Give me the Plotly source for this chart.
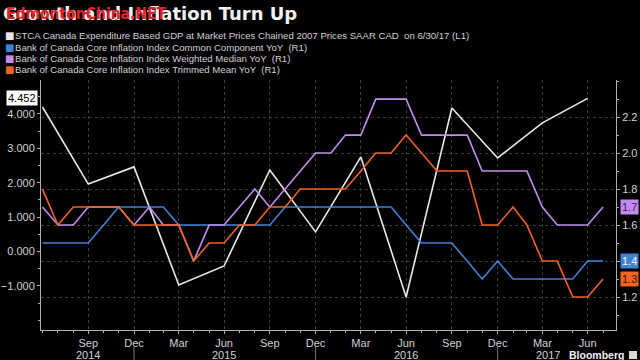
import plotly.graph_objects as go
import pandas as pd

# ---------------- data ----------------
months = [
    "2014-06", "2014-07", "2014-08", "2014-09", "2014-10", "2014-11", "2014-12",
    "2015-01", "2015-02", "2015-03", "2015-04", "2015-05", "2015-06", "2015-07",
    "2015-08", "2015-09", "2015-10", "2015-11", "2015-12", "2016-01", "2016-02",
    "2016-03", "2016-04", "2016-05", "2016-06", "2016-07", "2016-08", "2016-09",
    "2016-10", "2016-11", "2016-12", "2017-01", "2017-02", "2017-03", "2017-04",
    "2017-05", "2017-06", "2017-07",
]
common_component = [
    1.5, 1.5, 1.5, 1.5, 1.6, 1.7, 1.7, 1.7, 1.7, 1.6, 1.6, 1.6, 1.6, 1.6,
    1.6, 1.6, 1.7, 1.7, 1.7, 1.7, 1.7, 1.7, 1.7, 1.7, 1.6, 1.5, 1.5, 1.5,
    1.4, 1.3, 1.4, 1.3, 1.3, 1.3, 1.3, 1.3, 1.4, 1.4,
]
weighted_median = [
    1.7, 1.6, 1.6, 1.7, 1.7, 1.7, 1.6, 1.7, 1.6, 1.6, 1.4, 1.6, 1.6, 1.7,
    1.8, 1.7, 1.8, 1.9, 2.0, 2.0, 2.1, 2.1, 2.3, 2.3, 2.3, 2.1, 2.1, 2.1,
    2.1, 1.9, 1.9, 1.9, 1.9, 1.7, 1.6, 1.6, 1.6, 1.7,
]
trimmed_mean = [
    1.8, 1.6, 1.7, 1.7, 1.7, 1.7, 1.6, 1.6, 1.6, 1.6, 1.4, 1.5, 1.5, 1.6,
    1.6, 1.7, 1.7, 1.8, 1.8, 1.8, 1.8, 1.9, 2.0, 2.0, 2.1, 2.0, 1.9, 1.9,
    1.9, 1.6, 1.6, 1.7, 1.6, 1.4, 1.4, 1.2, 1.2, 1.3,
]
gdp_quarters = [
    "2014-06", "2014-09", "2014-12", "2015-03", "2015-06", "2015-09", "2015-12",
    "2016-03", "2016-06", "2016-09", "2016-12", "2017-03", "2017-06",
]
gdp_values = [4.2, 1.96, 2.46, -0.97, -0.42, 2.37, 0.57, 2.75, -1.32, 4.17, 2.72, 3.74, 4.452]

tick_months = ["2014-09", "2014-12", "2015-03", "2015-06", "2015-09", "2015-12",
               "2016-03", "2016-06", "2016-09", "2016-12", "2017-03", "2017-06"]
tick_labels = ["Sep", "Dec", "Mar", "Jun", "Sep", "Dec", "Mar", "Jun", "Sep", "Dec", "Mar", "Jun"]
year_labels = ["2014", "2015", "2016", "2017"]
year_label_dates = ["2014-09-30", "2015-06-30", "2016-06-30", "2017-04-12"]
year_sep_months = ["2014-12", "2015-12", "2016-12"]

legend_labels = [
    "STCA Canada Expenditure Based GDP at Market Prices Chained 2007 Prices SAAR CAD  on 6/30/17 (L1)",
    "Bank of Canada Core Inflation Index Common Component YoY  (R1)",
    "Bank of Canada Core Inflation Index Weighted Median YoY  (R1)",
    "Bank of Canada Core Inflation Index Trimmed Mean YoY  (R1)",
]

# ---------------- helpers ----------------
def month_end(m):
    return (pd.Timestamp(m + "-01") + pd.offsets.MonthEnd(0)).strftime("%Y-%m-%d")

x_months = [month_end(m) for m in months]
x_gdp = [month_end(m) for m in gdp_quarters]

L, R, T, B = 41, 24, 80, 30
W, H = 640, 360
PW, PH = W - L - R, H - T - B

def px(xp):
    return (xp - L) / PW

def py(yp):
    return (H - B - yp) / PH

WHITE = "#e8e8e8"
BLUE = "#3f82d4"
PURPLE = "#c58af0"
ORANGE = "#ee6420"
GRID = "#3a3a3a"
AXIS = "#b0b0b0"
TXT = "#d0d0d0"
FONT = "Liberation Sans"

fig = go.Figure()
fig.add_trace(go.Scatter(x=x_months, y=common_component, yaxis="y2", mode="lines",
                         line=dict(color=BLUE, width=1.6), showlegend=False))
fig.add_trace(go.Scatter(x=x_months, y=weighted_median, yaxis="y2", mode="lines",
                         line=dict(color=PURPLE, width=1.6), showlegend=False))
fig.add_trace(go.Scatter(x=x_months, y=trimmed_mean, yaxis="y2", mode="lines",
                         line=dict(color=ORANGE, width=1.6), showlegend=False))
fig.add_trace(go.Scatter(x=x_gdp, y=gdp_values, yaxis="y", mode="lines",
                         line=dict(color=WHITE, width=1.6), showlegend=False))

annotations = []
# title + watermark
annotations.append(dict(text="<b>Growth and Inflation Turn Up</b>", xref="paper", yref="paper",
                        x=px(1), y=py(13), xanchor="left", yanchor="middle", showarrow=False,
                        font=dict(family="DejaVu Sans", size=18, color="#f2f2f2")))
annotations.append(dict(text="<b>EdmontonChina.NET</b>", xref="paper", yref="paper",
                        x=px(4), y=py(14), xanchor="left", yanchor="middle", showarrow=False,
                        font=dict(family="DejaVu Sans Condensed", size=15.5, color="#e8202a")))
# legend
legend_colors = [WHITE, BLUE, PURPLE, ORANGE]
legend_y = [35, 47, 59, 70]
for lab, col, yy in zip(legend_labels, legend_colors, legend_y):
    annotations.append(dict(text="■", xref="paper", yref="paper", x=px(3), y=py(yy),
                            xanchor="left", yanchor="middle", showarrow=False,
                            font=dict(family="DejaVu Sans", size=10, color=col)))
    annotations.append(dict(text=lab, xref="paper", yref="paper", x=px(13), y=py(yy),
                            xanchor="left", yanchor="middle", showarrow=False,
                            font=dict(family=FONT, size=9.6, color=TXT)))
# year labels
for yl, yd in zip(year_labels, year_label_dates):
    annotations.append(dict(text=yl, xref="x", yref="paper", x=yd, y=py(355),
                            xanchor="center", yanchor="middle", showarrow=False,
                            font=dict(family=FONT, size=11, color=TXT)))
# value boxes
annotations.append(dict(text="4.452", xref="paper", yref="y", x=px(38), y=gdp_values[-1],
                        xanchor="right", yanchor="middle", showarrow=False, bgcolor="#ffffff",
                        borderpad=1, font=dict(family=FONT, size=11, color="#000000")))
for val, col, fcol in [(weighted_median[-1], PURPLE, "#3a1a55"),
                       (common_component[-1], BLUE, "#ffffff"),
                       (trimmed_mean[-1], ORANGE, "#3a1400")]:
    annotations.append(dict(text=f"{val:.1f}", xref="paper", yref="y2", x=px(620), y=val,
                            xanchor="left", yanchor="middle", showarrow=False, bgcolor=col,
                            borderpad=1, font=dict(family=FONT, size=11, color=fcol)))
# Bloomberg mark
annotations.append(dict(text="<b>Bloomberg</b>", xref="paper", yref="paper", x=px(626), y=py(355),
                        xanchor="right", yanchor="middle", showarrow=False,
                        font=dict(family=FONT, size=10.5, color="#f0f0f0")))

shapes = []
for sm in year_sep_months:
    shapes.append(dict(type="line", xref="x", yref="paper", x0=month_end(sm), x1=month_end(sm),
                       y0=py(347), y1=py(360), line=dict(color="#777777", width=1)))
shapes.append(dict(type="rect", xref="paper", yref="paper", x0=px(629), x1=px(637),
                   y0=py(359), y1=py(351), fillcolor="#d8d8d8", line=dict(width=0)))

fig.update_layout(
    width=W, height=H, autosize=False,
    margin=dict(l=L, r=R, t=T, b=B, pad=0, autoexpand=False),
    paper_bgcolor="#000000", plot_bgcolor="#000000",
    showlegend=False,
    font=dict(family=FONT, size=11, color=TXT),
    xaxis=dict(
        type="date", range=["2014-06-27", "2017-08-26"], automargin=False,
        tickmode="array", tickvals=[month_end(m) for m in tick_months], ticktext=tick_labels,
        showgrid=True, gridcolor=GRID, griddash="dot", gridwidth=1,
        showline=True, linecolor=AXIS, linewidth=1,
        ticks="outside", ticklen=3, tickcolor=AXIS,
        tickfont=dict(family=FONT, size=11, color=TXT),
        minor=dict(tickmode="array", tickvals=x_months, ticks="outside", ticklen=2,
                   tickcolor=AXIS, showgrid=False),
        zeroline=False,
    ),
    yaxis=dict(
        range=[-2.28, 4.985], tickmode="array", tickvals=[-1, 0, 1, 2, 3, 4], automargin=False,
        tickformat=".3f", showgrid=False, zeroline=False,
        showline=True, linecolor=AXIS, linewidth=1,
        ticks="outside", ticklen=3, tickcolor=AXIS,
        tickfont=dict(family=FONT, size=11, color=TXT),
        minor=dict(dtick=0.5, ticks="outside", ticklen=2, tickcolor=AXIS, showgrid=False),
    ),
    yaxis2=dict(
        overlaying="y", side="right", range=[1.017, 2.406], automargin=False,
        tickmode="array", tickvals=[1.2, 1.4, 1.6, 1.8, 2.0, 2.2], tickformat=".1f",
        showgrid=True, gridcolor=GRID, griddash="dot", gridwidth=1, zeroline=False,
        showline=True, linecolor=AXIS, linewidth=1,
        ticks="outside", ticklen=3, tickcolor=AXIS,
        tickfont=dict(family=FONT, size=11, color=TXT),
        minor=dict(dtick=0.1, ticks="outside", ticklen=2, tickcolor=AXIS, showgrid=False),
    ),
    annotations=annotations,
    shapes=shapes,
)

fig.write_html(
    "out.html",
    config={"displayModeBar": False, "responsive": False},
    post_script="document.body.style.margin='0';document.body.style.padding='0';"
                "document.body.style.overflow='hidden';document.body.style.background='#000';",
)
